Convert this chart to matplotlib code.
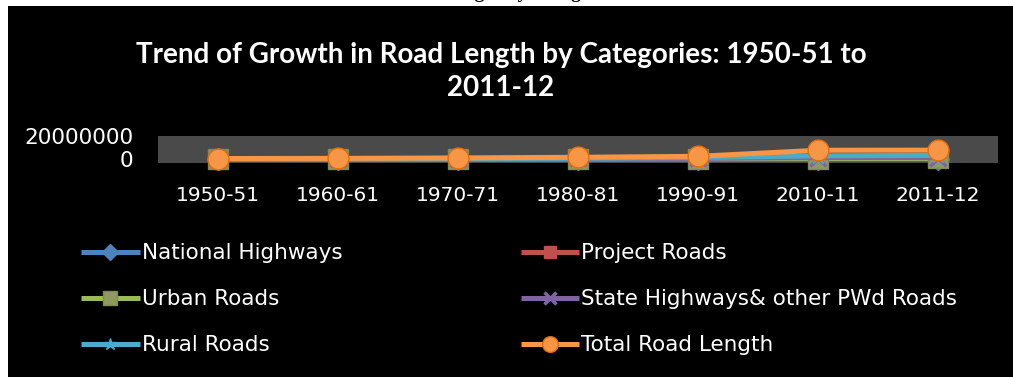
import matplotlib
matplotlib.use("Agg")
import matplotlib.pyplot as plt
from matplotlib.patches import Rectangle

years = ["1950-51", "1960-61", "1970-71", "1980-81", "1990-91", "2010-11", "2011-12"]
national_highways = [19811, 23798, 23838, 31671, 33650, 70934, 76818]
project_roads = [0, 0, 0, 114000, 209737, 281628, 304801]
urban_roads = [0, 46361, 72120, 123120, 186799, 411679, 464294]
state_pwd_roads = [173723, 257125, 276833, 421895, 509435, 1162763, 1201000]
rural_roads = [206408, 197194, 354530, 628865, 1260430, 2749805, 3159639]
total_road_length = [399942, 524478, 914979, 1485421, 2327362, 7600000, 7700000]
y_ticks = [0, 20000000]
y_tick_labels = ["0", "20000000"]

W, H = 1013, 377
fig = plt.figure(figsize=(W / 100, H / 100), dpi=100, facecolor="white")

# caption (mostly cut off at the top of the image, as in the source)
fig.text(0.5, 1 + 1.5 / H, "Trend of Growth in Road Length by Categories: 1950-51 to 2011-12",
         ha="center", va="baseline", fontsize=14, fontweight="bold",
         family="Liberation Serif", color="black")
# black chart background
fig.patches.append(Rectangle((8 / W, 0), 1 - 8 / W, 1 - 6 / H, transform=fig.transFigure,
                             facecolor="black", edgecolor="none", zorder=1))

ax = fig.add_axes([158 / W, (H - 163) / H, (998 - 158) / W, 27 / H], zorder=2)
ax.set_facecolor("#4a4a4a")
x = list(range(len(years)))

series = [
    ("National Highways", national_highways, "#4F81BD", "D", 11),
    ("Project Roads", project_roads, "#C0504D", "s", 11),
    ("Urban Roads", urban_roads, "#9BBB59", "s", 14),
    ("State Highways& other PWd Roads", state_pwd_roads, "#8064A2", "x", 11),
    ("Rural Roads", rural_roads, "#4BACC6", "*", 12),
    ("Total Road Length", total_road_length, "#F79646", "o", 15),
]
handles = {}
for name, vals, col, mk, ms in series:
    if mk == "o":
        kw = dict(markeredgecolor="#E46C0A", markerfacecolor="#F79646", markeredgewidth=1)
    elif mk == "x":
        kw = dict(markeredgecolor=col, markeredgewidth=2.5)
    elif name == "Urban Roads":
        kw = dict(markeredgecolor="#7f8a55", markerfacecolor="#8f9a62")
    else:
        kw = dict(markeredgecolor=col, markerfacecolor=col)
    h, = ax.plot(x, vals, color=col, lw=3.6, marker=mk, ms=ms, clip_on=False,
                 solid_capstyle="butt", label=name, **kw)
    handles[name] = h

ax.set_xlim(-0.5, len(years) - 0.5)
ax.set_ylim(-3500000, 20000000)
ax.set_xticks(x)
ax.set_xticklabels(years)
ax.set_yticks(y_ticks)
ax.set_yticklabels(y_tick_labels)
for s in ax.spines.values():
    s.set_visible(False)
ax.tick_params(length=0, colors="white", labelsize=14.5)
ax.tick_params(axis="x", pad=16.4)
ax.tick_params(axis="y", pad=17.7)
for t in ax.get_xticklabels():
    t.set_family("DejaVu Sans")
    t.set_color("white")
for t in ax.get_yticklabels():
    t.set_family("DejaVu Sans")
    t.set_fontsize(15.5)
    t.set_color("white")

fig.text(501 / W, 1 - 55 / H, "Trend of Growth in Road Length by Categories: 1950-51 to",
         ha="center", va="center", fontsize=20, fontweight="bold", family="Lato", color="white")
fig.text(501 / W, 1 - 88 / H, "2011-12",
         ha="center", va="center", fontsize=20, fontweight="bold", family="Lato", color="white")

order = ["National Highways", "Urban Roads", "Rural Roads",
         "Project Roads", "State Highways& other PWd Roads", "Total Road Length"]
leg = fig.legend([handles[n] for n in order], order, ncol=2,
                 loc="upper left", bbox_to_anchor=(62 / W, 1 - 224 / H),
                 frameon=False,
                 handlelength=2.7, handletextpad=0.1, columnspacing=8.3,
                 labelspacing=1.2, markerscale=0.75,
                 prop={"family": "DejaVu Sans", "size": 15.5})
for t in leg.get_texts():
    t.set_color("white")

fig.savefig("out.png", dpi=100, facecolor="white")
